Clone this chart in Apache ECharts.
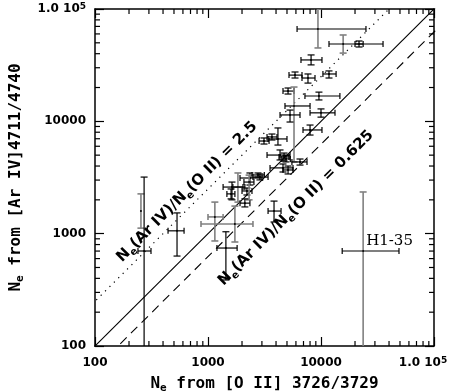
<!DOCTYPE html>
<html>
<head>
<meta charset="utf-8">
<script src="https://cdn.jsdelivr.net/npm/echarts@6/dist/echarts.min.js"></script>
<style>
html,body{margin:0;padding:0;background:#fff;}
#chart{width:463px;height:392px;}
</style>
</head>
<body>
<div id="chart"></div>
<script>
// ---- data ----
const xVal = [9400,15700,21700,8170,11770,7670,5890,5110,5770,9590,10000,5320,8000,3130,3680,4160,4340,4710,4900,6520,4610,5110,2350,2880,1630,1840,2210,1600,2310,2120,1150,1730,1440,3840,532,255,272,23600,2770];
const xLo  = [6140,11770,20000,6650,10400,6790,5210,4610,4800,7210,8000,4340,6930,2830,3330,3400,3330,4250,4500,5530,3540,4610,1920,2500,1360,1660,2000,1470,2080,1920,1000,867,1200,3400,443,255,240,15400,2450];
const xHi  = [25000,35400,23600,10200,13600,8850,6790,5770,8000,14700,13300,6520,10200,3470,4080,5000,5320,5210,5350,7520,5650,5650,3010,3400,2120,2040,2450,1730,2550,2350,1360,2500,1810,4430,614,255,313,49000,3150];
const yVal = [66400,48800,48800,35200,26400,24300,25800,18600,13700,16800,11900,11400,8380,6680,7260,6970,5010,4820,4630,4350,3850,3690,3130,3190,2600,2600,2400,2260,2880,1870,1410,1220,745,1590,1060,1590,701,701,3330];
const yLo  = [45000,40500,45900,31800,24300,21900,24300,17500,4350,15500,10900,9860,7550,6280,6820,6150,4530,4440,4350,4080,3540,3400,2710,3010,2000,1910,2210,2040,2000,1730,861,843,387,1270,632,1120,50,50,3190];
const yHi  = [100000,58700,51900,39000,28100,26400,27500,19800,20200,18200,12900,12600,9270,7110,7710,8730,5560,5220,4950,4620,4170,4000,3470,3400,2880,3470,2550,2500,3320,2040,1910,1760,1040,1950,1530,2260,3190,2350,3470];
const pointNames = {37: 'H1-35'};
// which bars are drawn in grey
const greyVertical = [0,1,8,25,28,30,31,35,37];
const greyHorizontal = [30,31];
// reference ratio lines: N(Ar IV) = r * N(O II)
const ratioValues = [1, 0.625, 2.5];
const ratioLabels = ['', '{n|N}{s|e}{n|(Ar IV)/N}{s|e}{n|(O II) = 0.625}', '{n|N}{s|e}{n|(Ar IV)/N}{s|e}{n|(O II) = 2.5}'];
const axisMin = 100, axisMax = 100000;
const minorTickValues = [];
[100, 1000, 10000].forEach(d => { for (let m = 2; m <= 9; m++) minorTickValues.push(m * d); });

// ---- chart ----
const chart = echarts.init(document.getElementById('chart'), null, {renderer: 'canvas'});
const BLACK = '#000', GREY = '#808080';
const richTicks = {
  a: {fontFamily: 'DejaVu Sans', fontWeight: 'bold', fontSize: 12, color: '#000', lineHeight: 14},
  s: {fontFamily: 'DejaVu Sans', fontWeight: 'bold', fontSize: 9, color: '#000', verticalAlign: 'top', lineHeight: 14},
  p: {width: 22}
};
function fmtX(v) {
  const r = Math.round(v);
  return r >= 100000 ? '{a|1.0 10}{s|5}{p|}' : '{a|' + r + '}';
}
function fmtY(v) {
  const r = Math.round(v);
  return r >= 100000 ? '{a|1.0 10}{s|5}' : '{a|' + r + '}';
}
const titleRich = {
  n: {fontFamily: 'DejaVu Sans Mono', fontWeight: 'bold', fontSize: 16, color: '#000', lineHeight: 20, verticalAlign: 'middle'},
  s: {fontFamily: 'DejaVu Sans Mono', fontWeight: 'bold', fontSize: 11, color: '#000', lineHeight: 12, verticalAlign: 'bottom'}
};

function baseAxis(extra) {
  return Object.assign({
    type: 'log', logBase: 10, min: axisMin, max: axisMax,
    axisLine: {show: true, onZero: false, lineStyle: {color: '#000', width: 1.5}},
    axisTick: {show: true, inside: true, length: 9, lineStyle: {color: '#000', width: 1.2}},
    splitLine: {show: false},
    minorTick: {show: false}
  }, extra);
}

const errData = xVal.map((x, i) => [x, yVal[i], xLo[i], xHi[i], yLo[i], yHi[i], i]);

function renderErr(params, api) {
  const x = api.value(0), y = api.value(1);
  const i = api.value(6);
  const c = api.coord([x, y]);
  const l = api.coord([api.value(2), y]);
  const r = api.coord([api.value(3), y]);
  const b = api.coord([x, api.value(4)]);
  const t = api.coord([x, api.value(5)]);
  const vCol = greyVertical.indexOf(i) >= 0 ? GREY : BLACK;
  const hCol = greyHorizontal.indexOf(i) >= 0 ? GREY : BLACK;
  const vW = vCol === GREY ? 1.6 : 1.2;
  const hW = hCol === GREY ? 1.6 : 1.2;
  const ch = 3.5, cv = 3;
  const kids = [];
  const line = (x1, y1, x2, y2, col, w) => kids.push({type: 'line', shape: {x1, y1, x2, y2}, style: {stroke: col, lineWidth: w}});
  if (Math.abs(r[0] - l[0]) > 0.5) {
    line(l[0], c[1], r[0], c[1], hCol, hW);
    line(l[0], c[1] - cv, l[0], c[1] + cv, hCol, hW);
    line(r[0], c[1] - cv, r[0], c[1] + cv, hCol, hW);
  }
  if (Math.abs(b[1] - t[1]) > 0.5) {
    line(c[0], b[1], c[0], t[1], vCol, vW);
    line(c[0] - ch, b[1], c[0] + ch, b[1], vCol, vW);
    line(c[0] - ch, t[1], c[0] + ch, t[1], vCol, vW);
  }
  kids.push({type: 'circle', shape: {cx: c[0], cy: c[1], r: 1}, style: {fill: '#000'}});
  if (pointNames[i]) {
    kids.push({type: 'text', x: c[0] + 3, y: c[1] - 10,
      style: {text: pointNames[i], fill: '#000', font: '15px "DejaVu Serif"', align: 'left', verticalAlign: 'middle'}});
  }
  return {type: 'group', children: kids};
}

function renderMinor(params, api) {
  const v = api.value(0);
  const len = 5;
  const bx = api.coord([v, axisMin]);
  const tx = api.coord([v, axisMax]);
  const ly = api.coord([axisMin, v]);
  const ry = api.coord([axisMax, v]);
  const st = {stroke: '#000', lineWidth: 1.2};
  return {type: 'group', children: [
    {type: 'line', shape: {x1: bx[0], y1: bx[1], x2: bx[0], y2: bx[1] - len}, style: st},
    {type: 'line', shape: {x1: tx[0], y1: tx[1], x2: tx[0], y2: tx[1] + len}, style: st},
    {type: 'line', shape: {x1: ly[0], y1: ly[1], x2: ly[0] + len, y2: ly[1]}, style: st},
    {type: 'line', shape: {x1: ry[0], y1: ry[1], x2: ry[0] - len, y2: ry[1]}, style: st}
  ]};
}

const lineStyles = [
  {color: '#000', width: 1.1, type: 'solid'},
  {color: '#000', width: 1.1, type: [9, 6]},
  {color: '#000', width: 1.2, type: [1.2, 5]}
];
const ratioSeries = ratioValues.map((rv, k) => ({
  type: 'line', xAxisIndex: 0, yAxisIndex: 0,
  data: [[10, 10 * rv], [1e6, 1e6 * rv]],
  showSymbol: false, symbol: 'none', silent: true, clip: true,
  lineStyle: lineStyles[k], z: 2
}));

const labelRich = {
  n: {fontFamily: 'DejaVu Sans', fontWeight: 'bold', fontSize: 15, fill: '#000', lineHeight: 20, verticalAlign: 'middle'},
  s: {fontFamily: 'DejaVu Sans', fontWeight: 'bold', fontSize: 10, fill: '#000', lineHeight: 12, verticalAlign: 'bottom'}
};

const option = {
  animation: false,
  backgroundColor: '#fff',
  grid: {left: 95, right: 29, top: 9, bottom: 46, containLabel: false, outerBoundsMode: 'none'},
  xAxis: [
    baseAxis({position: 'bottom',
      name: '{n|N}{s|e}{n| from [O II] 3726/3729}', nameLocation: 'middle', nameGap: 28,
      nameTextStyle: {rich: titleRich},
      axisLabel: {show: true, margin: 10, formatter: fmtX, rich: richTicks}}),
    baseAxis({position: 'top', axisLabel: {show: false}})
  ],
  yAxis: [
    baseAxis({position: 'left',
      name: '{n|N}{s|e}{n| from [Ar IV]4711/4740}', nameLocation: 'middle', nameGap: 69,
      nameTextStyle: {rich: titleRich},
      axisLabel: {show: true, margin: 9, formatter: fmtY, rich: richTicks}}),
    baseAxis({position: 'right', axisLabel: {show: false}})
  ],
  series: ratioSeries.concat([
    {type: 'custom', xAxisIndex: 0, yAxisIndex: 0, data: errData, renderItem: renderErr,
     encode: {x: 0, y: 1}, clip: true, silent: true, z: 3},
    {type: 'custom', xAxisIndex: 0, yAxisIndex: 0, data: minorTickValues.map(v => [v, v]),
     renderItem: renderMinor, encode: {x: 0, y: 1}, clip: false, silent: true, z: 4}
  ]),
  graphic: [
    {type: 'text', x: 187, y: 192, rotation: Math.PI / 4, silent: true,
     style: {text: ratioLabels[2], align: 'center', verticalAlign: 'middle', rich: labelRich}},
    {type: 'text', x: 296, y: 208, rotation: Math.PI / 4, silent: true,
     style: {text: ratioLabels[1], align: 'center', verticalAlign: 'middle', rich: labelRich}}
  ]
};
chart.setOption(option);
</script>
</body>
</html>
